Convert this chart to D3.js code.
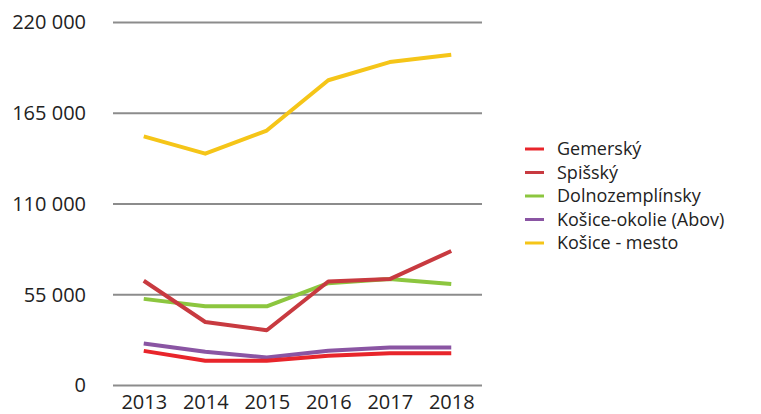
<!DOCTYPE html>
<html>
<head>
<meta charset="utf-8">
<script src="https://cdn.jsdelivr.net/npm/d3@7"></script>
<style>
  body { margin: 0; background: #fff; }
  text { font-family: "Open Sans", sans-serif; fill: #222; }
</style>
</head>
<body>
<script>
var years = ["2013", "2014", "2015", "2016", "2017", "2018"];
var yTicks = [0, 55000, 110000, 165000, 220000];

var gemersky = [21000, 15000, 15000, 18000, 19500, 19500];
var spissky = [63500, 38500, 33500, 63000, 64500, 81500];
var dolnozemplinsky = [52500, 48000, 48000, 62000, 64500, 61500];
var kosiceOkolie = [25500, 20500, 17000, 21000, 23000, 23000];
var kosiceMesto = [151000, 140500, 154500, 185000, 196000, 200500];

var seriesNames = ["Gemerský", "Spišský", "Dolnozemplínsky", "Košice-okolie (Abov)", "Košice - mesto"];
var seriesColors = ["#e8252b", "#c83a40", "#8cc63f", "#8a55a3", "#f5c518"];

var series = [gemersky, spissky, dolnozemplinsky, kosiceOkolie, kosiceMesto].map(function(v, i) {
  return { name: seriesNames[i], color: seriesColors[i], values: v };
});

var width = 761, height = 414;
var margin = {left: 113, right: 279, top: 22.5, bottom: 28.5};

var svg = d3.select("body").append("svg")
  .attr("width", width)
  .attr("height", height);

var x = d3.scalePoint()
  .domain(years)
  .range([margin.left, width - margin.right])
  .padding(0.5);

var y = d3.scaleLinear()
  .domain([0, 220000])
  .range([height - margin.bottom, margin.top]);

var fmt = function(d) { return d3.format(",")(d).replace(/,/g, " "); };

// grid lines
svg.append("g")
  .selectAll("line")
  .data(yTicks)
  .enter().append("line")
  .attr("x1", margin.left)
  .attr("x2", width - margin.right)
  .attr("y1", function(d) { return y(d); })
  .attr("y2", function(d) { return y(d); })
  .attr("stroke", "#8c8c8c")
  .attr("stroke-width", 2);

var yAxis = d3.axisLeft(y)
  .tickValues(yTicks)
  .tickFormat(fmt)
  .tickSize(0)
  .tickPadding(27);

svg.append("g")
  .attr("transform", "translate(" + margin.left + ",0)")
  .call(yAxis)
  .call(function(g) { g.select(".domain").remove(); })
  .selectAll("text")
  .style("font-family", "'Open Sans', sans-serif")
  .style("font-size", "20px")
  .attr("fill", "#222");

var xAxis = d3.axisBottom(x).tickSize(0).tickPadding(9);

svg.append("g")
  .attr("transform", "translate(0," + (height - margin.bottom) + ")")
  .call(xAxis)
  .call(function(g) { g.select(".domain").remove(); })
  .selectAll("text")
  .style("font-family", "'Open Sans', sans-serif")
  .style("font-size", "20px")
  .attr("fill", "#222");

var line = d3.line()
  .x(function(d, i) { return x(years[i]); })
  .y(function(d) { return y(d); });

// draw order: Košice-mesto, Dolnozemplínsky, Spišský, Košice-okolie, Gemerský
var order = [4, 2, 1, 3, 0];
svg.append("g")
  .selectAll("path")
  .data(order.map(function(i) { return series[i]; }))
  .enter().append("path")
  .attr("d", function(d) { return line(d.values); })
  .attr("fill", "none")
  .attr("stroke", function(d) { return d.color; })
  .attr("stroke-width", 4)
  .attr("stroke-linejoin", "round");

// legend
var legend = svg.append("g")
  .attr("transform", "translate(525,149)");

var item = legend.selectAll("g")
  .data(series)
  .enter().append("g")
  .attr("transform", function(d, i) { return "translate(0," + (i * 23.5) + ")"; });

item.append("line")
  .attr("x1", 0)
  .attr("x2", 19)
  .attr("stroke", function(d) { return d.color; })
  .attr("stroke-width", 3);

item.append("text")
  .attr("x", 32)
  .attr("dy", "0.35em")
  .style("font-size", "18px")
  .text(function(d) { return d.name; });
</script>
</body>
</html>
